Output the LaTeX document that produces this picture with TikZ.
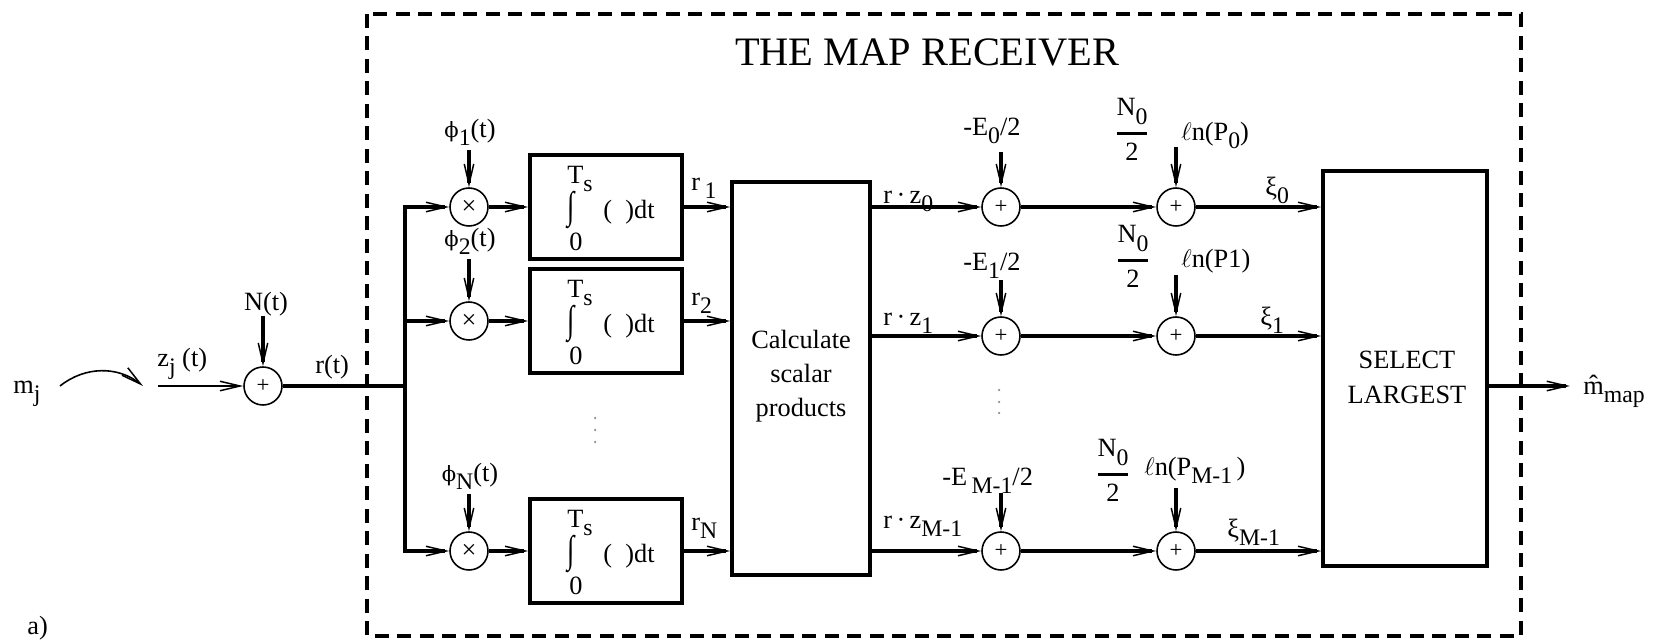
\documentclass[tikz,border=0pt]{standalone}
\usepackage{fontspec}
\setmainfont{Liberation Serif}
\newfontfamily\grk{DejaVu Serif}
\usepackage{amsmath}
\usepackage{graphicx}
\usetikzlibrary{arrows.meta}
\newcommand\sbx[1]{\raisebox{-0.34em}{\fontsize{13.5}{13.5}\selectfont #1}}
\newcommand\phiv{{\grk\fontsize{12}{12}\selectfont ϕ}}
\newcommand\halfN{$\genfrac{}{}{1.5pt}{0}{\hbox{N\sbx{0}}}{\hbox{2}}$}
\begin{document}
\begin{tikzpicture}[x=0.02cm,y=-0.02cm,font=\fontsize{15}{18}\selectfont,
  thk/.style={line width=2pt},
  tip/.style={-{Straight Barb[length=0.4cm,width=0.19cm,line width=0.85pt]}},
  arr/.style={thk,tip},
  thinarr/.style={line width=0.9pt,tip},
  op/.style={draw,circle,line width=0.9pt,minimum size=0.76cm,inner sep=0pt},
  sumop/.style={op,font=\fontsize{13}{13}\selectfont},
  mulop/.style={op,font=\fontsize{15}{15}\selectfont},
  intbox/.style={draw,thk,minimum width=3.04cm,minimum height=2.08cm,inner sep=0pt},
  lbl/.style={inner sep=0pt},
  dotc/.style={fill=black!45},
]
\useasboundingbox (0,0) rectangle (1656,639);
% receiver frame and title
\draw[thk,dash pattern=on 0.28cm off 0.17cm] (367,14) rectangle (1521,636);
\node[lbl,font=\fontsize{23}{26}\selectfont] (ttl) at (927,52) {THE MAP RECEIVER};
\node[lbl,anchor=base west] (al) at (27,634) {a)};
% input side
\node[lbl,anchor=base west] (mj) at (13,393) {m\sbx{j}};
\coordinate (cs) at (60,386);
\coordinate (ce) at (143,386);
\draw[thinarr] (cs) .. controls (85,366) and (118,366) .. (ce);
\coordinate (zs) at (158,386);
\node[lbl,anchor=base west] (zl) at (157,366) {z\sbx{j} (t)};
\node[sumop] (s0) at (263,386) {+};
\draw[thinarr] (zs) -- (s0.west);
\node[lbl,anchor=base] (nl) at (266,310) {N(t)};
\coordinate (nt) at (263,316);
\draw[arr] (nt) -- (s0.north);
\node[lbl,anchor=base west] (rl) at (315,373) {r(t)};
\coordinate (busj) at (405,386);
\coordinate (bus1) at (405,207);
\coordinate (bus2) at (405,321);
\coordinate (busN) at (405,551);
\draw[thk] (s0.east) -- (busj);
\draw[thk,line cap=rect] (bus1) -- (busN);
% correlator branches
\node[draw,thk,minimum width=2.76cm,minimum height=7.86cm] (cb) at (801,378.5) {};
\node[lbl,align=center,font=\fontsize{15}{19.5}\selectfont] (cbt) at (801,376) {Calculate\\scalar\\products};
\foreach \n/\r/\py in {1/207/137,2/321/246,N/551/481}{
  \node[mulop] (m\n) at (469,\r) {×};
  \node[lbl,anchor=base] (p\n) at (470,\py) {\phiv\sbx{\n}(t)};
  \coordinate (pt\n) at (469,{\py+13});
  \draw[arr] (pt\n) -- (m\n.north);
  \draw[arr] (bus\n) -- (m\n.west);
  \node[intbox] (i\n) at (606,\r) {};
  \node[lbl,anchor=base west] (ts\n) at (567,{\r-24}) {T\sbx{s}};
  \node[lbl] (ig\n) at (571,{\r+3}) {\scalebox{1}[1.45]{∫}};
  \node[lbl,anchor=base] (lo\n) at (576,{\r+43}) {0};
  \node[lbl,anchor=base west] (dt\n) at (603,{\r+11}) {(\hspace{0.5em})dt};
  \draw[arr] (m\n.east) -- (i\n.west);
  \draw[arr] (i\n.east) -- (i\n.east -| cb.west);
}
\node[lbl,anchor=base west] (rr1) at (691,190) {r\,\sbx{1}};
\node[lbl,anchor=base west] (rr2) at (691,305) {r\sbx{2}};
\node[lbl,anchor=base west] (rrN) at (691,530) {r\sbx{N}};
\foreach \k in {418,430,442}{\fill[dotc] (595,\k) circle (0.025cm);}
% decision statistics
\node[draw,thk,minimum width=3.28cm,minimum height=7.9cm] (sel) at (1405,368.5) {};
\node[lbl,align=center,font=\fontsize{15}{20}\selectfont] (selt) at (1407,377) {SELECT\\LARGEST};
\foreach \n/\r in {0/207,1/336,M/551}{
  \node[sumop] (ea\n) at (1001,\r) {+};
  \node[sumop] (pb\n) at (1176,\r) {+};
  \draw[arr] (cb.east |- ea\n.west) -- (ea\n.west);
  \draw[arr] (ea\n.east) -- (pb\n.west);
  \draw[arr] (pb\n.east) -- (sel.west |- pb\n.east);
}
\node[lbl,anchor=base west] (rz0) at (883,203) {r\,·\,z\sbx{0}};
\node[lbl,anchor=base west] (rz1) at (883,325) {r\,·\,z\sbx{1}};
\node[lbl,anchor=base west] (rzM) at (883,528) {r\,·\,z\sbx{M-1}};
\node[lbl,anchor=base west] (e0) at (963,135) {-E\sbx{0}/2};
\node[lbl,anchor=base west] (e1) at (963,270) {-E\sbx{1}/2};
\node[lbl,anchor=base west] (eM) at (942,485) {-E\,\sbx{M-1}/2};
\coordinate (et0) at (1001,152);
\coordinate (et1) at (1001,280);
\coordinate (etM) at (1001,493);
\node[lbl,anchor=base] (f0) at (1132,140) {\halfN};
\node[lbl,anchor=base] (f1) at (1133,267) {\halfN};
\node[lbl,anchor=base] (fM) at (1113,481) {\halfN};
\node[lbl,anchor=base west] (l0) at (1181,140) {$\ell$n(P\sbx{0})};
\node[lbl,anchor=base west] (l1) at (1181,267) {$\ell$n(P1)};
\node[lbl,anchor=base west] (lM) at (1144,475) {$\ell$n(P\sbx{M-1}\,)};
\coordinate (qt0) at (1176,147);
\coordinate (qt1) at (1176,275);
\coordinate (qtM) at (1176,488);
\foreach \n in {0,1,M}{
  \draw[arr] (et\n) -- (ea\n.north);
  \draw[arr] (qt\n) -- (pb\n.north);
}
\foreach \k in {390,402,413}{\fill[dotc] (999,\k) circle (0.025cm);}
\node[lbl,anchor=base west] (x0) at (1265,195) {ξ\sbx{0}};
\node[lbl,anchor=base west] (x1) at (1260,325) {ξ\sbx{1}};
\node[lbl,anchor=base west] (xM) at (1227,537) {ξ\sbx{M-1}};
% output
\coordinate (oe) at (1570,386);
\draw[arr] (sel.east |- oe) -- (oe);
\node[lbl,anchor=base west] (mh) at (1583,394) {\^{m}\sbx{map}};
\end{tikzpicture}
\end{document}
